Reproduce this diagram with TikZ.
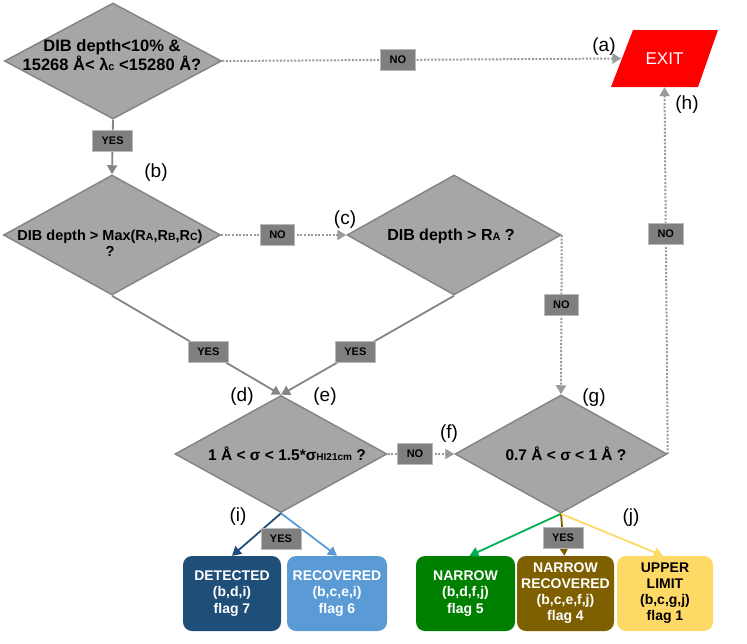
\documentclass[tikz,border=0pt]{standalone}
\usepackage{fontspec}
\setmainfont{Liberation Sans}
\usetikzlibrary{shapes.geometric,arrows.meta,calc}
\definecolor{dfill}{HTML}{A6A6A6}
\definecolor{dline}{HTML}{858585}
\definecolor{dotc}{HTML}{9A9A9A}
\definecolor{lfill}{HTML}{7F7F7F}
\definecolor{cdet}{HTML}{1F4E79}
\definecolor{crec}{HTML}{5B9BD5}
\definecolor{cnar}{HTML}{008000}
\definecolor{cnarl}{HTML}{00B050}
\definecolor{cnrec}{HTML}{7F6000}
\definecolor{cup}{HTML}{FFD966}
\newcommand{\myfs}[2]{\fontsize{#1}{#2}\selectfont}
\newcommand{\smc}[1]{{\myfs{10.5}{10.5}#1}}
\begin{document}
\begin{tikzpicture}[x=1pt,y=-1pt,
  dia/.style={diamond, draw=dline, fill=dfill, line width=1.5pt, inner sep=0pt},
  dtext/.style={align=center, font=\bfseries, text=black, inner sep=0pt},
  lab/.style={solid, fill=lfill, draw=gray!55, line width=0.6pt, font=\bfseries\myfs{11}{11},
    inner xsep=9pt, inner ysep=0pt, minimum height=21pt, text=black},
  yesline/.style={draw=dline, line width=1.8pt, -{Triangle[width=10pt,length=9pt]}},
  noline/.style={draw=dotc, line width=2pt, dash pattern=on 2pt off 1.6pt,
    -{Triangle[width=10pt,length=9pt]}},
  carrow/.style={line width=1.8pt, -{Triangle[width=10pt,length=9pt]}},
  res/.style={rounded corners=9pt, minimum height=75pt, inner sep=0pt, align=center,
    font=\bfseries\myfs{14}{16.5}, text=white},
  tag/.style={font=\myfs{19}{19}, inner sep=0pt, text=black}
]
\useasboundingbox (0,0) rectangle (747,643);

% decision diamonds
\node[dia, minimum width=217pt, minimum height=116pt] (q1) at (113,61) {};
\node[dtext, font=\bfseries\myfs{16.5}{18.5}] (t1) at (112,55)
  {DIB depth<10\% \&\\15268 Å< λ{\myfs{11}{11}c} <15280 Å?};
\node[dia, minimum width=217pt, minimum height=120pt] (q2) at (112,235) {};
\node[dtext, font=\bfseries\myfs{14.5}{16}] (t2) at (110,243)
  {DIB depth > Max(R\smc{A},R\smc{B},R\smc{C})\\?};
\node[dia, minimum width=214pt, minimum height=120pt] (q3) at (454,235) {};
\node[dtext, font=\bfseries\myfs{16}{16}] (t3) at (451,236)
  {DIB depth > R{\myfs{11}{11}A} ?};
\node[dia, minimum width=212pt, minimum height=117pt] (q4) at (281,454) {};
\node[dtext, font=\bfseries\myfs{15.5}{15.5}] (t4) at (287,454)
  {1 Å < σ < 1.5*σ{\myfs{10}{10}HI21cm} ?};
\node[dia, minimum width=212pt, minimum height=118pt] (q5) at (561,454) {};
\node[dtext, font=\bfseries\myfs{15.5}{15.5}] (t5) at (566,454)
  {0.7 Å < σ < 1 Å ?};

% exit (parallelogram drawn round a rectangular node)
\coordinate (exitc) at (664.5,58.5);
\fill[red] ($(exitc)+(-53.5,28.5)$) -- ($(exitc)+(-31.5,-28.5)$)
  -- ($(exitc)+(53.5,-28.5)$) -- ($(exitc)+(33.5,28.5)$) -- cycle;
\node[minimum width=86pt, minimum height=57pt, inner sep=0pt, text=white,
  font=\myfs{17}{17}] (exit) at (exitc) {EXIT};

% result boxes
\node[res, fill=cdet, minimum width=98pt] (det) at (232,593.5) {DETECTED\\(b,d,i)\\flag 7};
\node[res, fill=crec, minimum width=100pt] (rec) at (337,593.5) {RECOVERED\\(b,c,e,i)\\flag 6};
\node[res, fill=cnar, minimum width=99pt] (nar) at (465.5,593.5) {NARROW\\(b,d,f,j)\\flag 5};
\node[res, fill=cnrec, minimum width=97pt, font=\bfseries\myfs{14}{16}] (nrec) at (565.5,593.5)
  {NARROW\\RECOVERED\\(b,c,e,f,j)\\flag 4};
\node[res, fill=cup, minimum width=96pt, text=black, font=\bfseries\myfs{14}{16}] (up) at (665,593.5)
  {UPPER\\LIMIT\\(b,c,g,j)\\flag 1};

% connectors
\draw[yesline] (q1.south) -- node[lab,pos=.39]{YES} (q2.north);
\draw[noline] (q1.east) -- node[lab,pos=.44]{NO} (exit.west);
\draw[noline] (q2.east) -- node[lab,pos=.45]{NO} (q3.west);
\draw[yesline] (q2.south) -- node[lab,pos=.57]{YES} (q4.north);
\draw[yesline] (q3.south) -- node[lab,pos=.57]{YES} (q4.north);
\draw[noline] (q3.east) -- node[lab,pos=.44]{NO} (q5.north);
\draw[noline] (q4.east) -- node[lab,pos=.41]{NO} (q5.west);
\draw[noline] (q5.east) -- node[lab,pos=.60]{NO} (exit.south);

\draw[carrow, draw=cdet] (q4.south) -- (det.north);
\draw[carrow, draw=crec] (q4.south) -- (rec.north);
\draw[carrow, draw=cnarl] (q5.south) -- ($(nar.north)+(4,0)$);
\draw[carrow, draw=cnrec] (q5.south) -- ($(nrec.north)+(-1,0)$);
\draw[carrow, draw=cup] (q5.south) -- ($(up.north)+(-2,0)$);
\node[lab] (y1) at (281,539) {YES};
\node[lab] (y2) at (563,538) {YES};

% tags
\node[tag] (ta) at (604,47) {(a)};
\node[tag] (tb) at (156,173) {(b)};
\node[tag] (tc) at (345,220) {(c)};
\node[tag] (td) at (242,397) {(d)};
\node[tag] (te) at (325,397) {(e)};
\node[tag] (tf) at (449,434) {(f)};
\node[tag] (tg) at (594,398) {(g)};
\node[tag] (th) at (687,105) {(h)};
\node[tag] (ti) at (238,517) {(i)};
\node[tag] (tj) at (631,518) {(j)};
\end{tikzpicture}
\end{document}
